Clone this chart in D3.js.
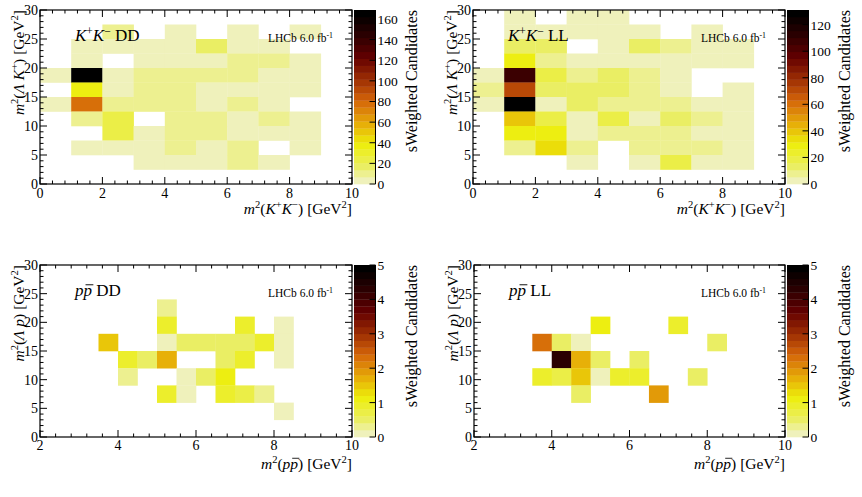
<!DOCTYPE html>
<html><head><meta charset="utf-8">
<script src="https://cdn.jsdelivr.net/npm/d3@7"></script>
<style>
body{margin:0;background:#fff}
svg{display:block}
svg text{font-family:"Liberation Serif","DejaVu Serif",serif;fill:#000}
</style>
</head><body>
<svg id="chart" width="862" height="497" font-family="Liberation Serif, DejaVu Serif, serif"></svg>
<script>
// ---------------- data ----------------
// bin edges
const kkXEdges = [0,1,2,3,4,5,6,7,8,9,10];
const kkYEdges = [30,27.5,25,22.5,20,17.5,15,12.5,10,7.5,5,2.5,0];           // top -> bottom
const ppXEdges = [2,2.5,3,3.5,4,4.5,5,5.5,6,6.5,7,7.5,8,8.5,9,9.5,10];
const ppYEdges = [30,27,24,21,18,15,12,9,6,3,0];                               // top -> bottom

// sWeighted candidates per bin, rows from top (high y) to bottom, columns left -> right
const kkDD = [
  [0,0,0,0,0,0,0,0,0,0],
  [0,0,11,0,4,0,4,0,4,0],
  [0,4,4,4,4,15,4,4,0,0],
  [0,4,0,4,4,4,10,10,4,0],
  [4,168,4,10,10,10,10,4,4,0],
  [0,38,4,10,10,4,4,4,4,0],
  [4,80,10,10,10,4,10,4,0,0],
  [0,10,22,0,10,10,4,10,4,0],
  [0,0,22,4,10,10,4,4,4,0],
  [0,4,4,4,10,4,10,0,4,0],
  [0,0,0,4,4,4,10,4,0,0],
  [0,0,0,0,0,0,0,0,0,0]
];
const kkLL = [
  [0,3,0,3,3,0,0,0,0,0],
  [0,3,3,3,3,3,0,3,0,0],
  [0,13,13,0,3,14,8,3,3,0],
  [0,28,9,3,3,3,3,3,3,0],
  [3,108,20,9,14,9,3,0,0,0],
  [8,72,13,13,13,8,3,0,3,0],
  [3,131,3,13,9,9,9,3,3,0],
  [0,40,20,3,16,3,12,9,3,0],
  [0,27,27,3,9,9,9,3,3,0],
  [0,9,36,9,0,9,9,9,3,0],
  [0,0,0,3,0,3,18,3,3,0],
  [0,0,0,0,0,0,0,0,0,0]
];
const ppDD = [
  [0,0,0,0,0,0,0,0,0,0,0,0,0,0,0,0],
  [0,0,0,0,0,0,0,0,0,0,0,0,0,0,0,0],
  [0,0,0,0,0,0,0.3,0,0,0,0,0,0,0,0,0],
  [0,0,0,0,0,0,0.8,0,0,0,0.8,0,0.1,0,0,0],
  [0,0,0,1.5,0,0,0.1,0.5,0.5,0.5,0.5,0.8,0.1,0,0,0],
  [0,0,0,0,0.9,0.5,1.7,0,0,0.4,0.8,0,0.1,0,0,0],
  [0,0,0,0,0.3,0,0,0.1,0.5,1.0,0,0,0,0,0,0],
  [0,0,0,0,0,0,0.9,0.1,0,0.9,0.7,0.3,0,0,0,0],
  [0,0,0,0,0,0,0,0,0,0,0,0,0.1,0,0,0],
  [0,0,0,0,0,0,0,0,0,0,0,0,0,0,0,0]
];
const ppLL = [
  [0,0,0,0,0,0,0,0,0,0,0,0,0,0,0,0],
  [0,0,0,0,0,0,0,0,0,0,0,0,0,0,0,0],
  [0,0,0,0,0,0,0,0,0,0,0,0,0,0,0,0],
  [0,0,0,0,0,0,1.1,0,0,0,0.8,0,0,0,0,0],
  [0,0,0,2.3,0.4,0.1,0,0,0,0,0,0,0.4,0,0,0],
  [0,0,0,0,4.2,1.7,0.5,0,0.5,0,0,0,0,0,0,0],
  [0,0,0,0.9,0.6,1.5,0.1,0.9,0.9,0,0,0.5,0,0,0,0],
  [0,0,0,0,0,0.5,0,0,0,1.9,0,0,0,0,0,0],
  [0,0,0,0,0,0,0,0,0,0,0,0,0,0,0,0],
  [0,0,0,0,0,0,0,0,0,0,0,0,0,0,0,0]
];

// axis tick labels
const kkXTicks = [0,2,4,6,8,10];
const ppXTicks = [2,4,6,8,10];
const yTicks = [0,5,10,15,20,25,30];
const kkDDZTicks = [0,20,40,60,80,100,120,140,160];
const kkLLZTicks = [0,20,40,60,80,100,120];
const ppZTicks = [0,1,2,3,4,5];
const zMax = {kkDD:168.7, kkLL:131, ppDD:5, ppLL:5};

// ---------------- palette (inverted dark body radiator) ----------------
const palStops = [0,0.125,0.25,0.375,0.5,0.625,0.75,0.875,1];
const palCols = ["rgb(242,243,230)","rgb(234,238,95)","rgb(237,238,11)","rgb(230,168,8)",
                 "rgb(212,101,9)","rgb(156,45,3)","rgb(99,0,1)","rgb(45,0,1)","rgb(0,0,0)"];
const pal = d3.scaleLinear().domain(palStops).range(palCols).interpolate(d3.interpolateRgb).clamp(true);
const NCONT = 25;
function bandColor(b){ return pal(Math.min(1,(b+0.99)/NCONT*255/254)); }

// ---------------- layout ----------------
const svg = d3.select("#chart");
const panels = [
  {data:kkDD, xe:kkXEdges, ye:kkYEdges, xd:[0,10], xt:kkXTicks, zmax:zMax.kkDD, zt:kkDDZTicks,
   box:{x0:40,x1:352,y0:10,y1:184}, cb:[354,375.5], kind:"kk", tag:"DD", tl:13.5, tt:29.5},
  {data:kkLL, xe:kkXEdges, ye:kkYEdges, xd:[0,10], xt:kkXTicks, zmax:zMax.kkLL, zt:kkLLZTicks,
   box:{x0:473,x1:785,y0:10,y1:184}, cb:[787,808.5], kind:"kk", tag:"LL", tl:13.5, tt:29.5},
  {data:ppDD, xe:ppXEdges, ye:ppYEdges, xd:[2,10], xt:ppXTicks, zmax:zMax.ppDD, zt:ppZTicks,
   box:{x0:40,x1:352,y0:265,y1:437}, cb:[354,375.5], kind:"pp", tag:"DD", tl:13, tt:31.5},
  {data:ppLL, xe:ppXEdges, ye:ppYEdges, xd:[2,10], xt:ppXTicks, zmax:zMax.ppLL, zt:ppZTicks,
   box:{x0:474,x1:785,y0:265,y1:437}, cb:[787,808.5], kind:"pp", tag:"LL", tl:13, tt:31.5}
];

// rich text helper: parts = [{t, i(italic), s(sup), o(overline)}]
function rich(sel, parts, fs, parentG){
  let up = false;
  const over = [];
  let nChars = 0;
  parts.forEach(p=>{
    const ts = sel.append("tspan").text(p.t);
    if(p.i) ts.attr("font-style","italic");
    if(p.s && !up){ ts.attr("dy", -0.38*fs).attr("font-size", fs*0.68); up = true; }
    else if(p.s && up){ ts.attr("font-size", fs*0.68); }
    else if(!p.s && up){ ts.attr("dy", 0.38*fs); up = false; }
    if(p.o) over.push([nChars, p.t.length]);
    nChars += p.t.length;
  });
  if(over.length && parentG){
    const el = sel.node();
    over.forEach(([i0,n])=>{
      const s = el.getStartPositionOfChar(i0);
      const e = el.getEndPositionOfChar(i0+n-1);
      parentG.append("line").attr("x1",s.x+0.12*fs).attr("x2",e.x+0.08*fs)
        .attr("y1",s.y-0.66*fs).attr("y2",s.y-0.66*fs)
        .attr("stroke","#000").attr("stroke-width",Math.max(0.8,fs*0.055));
    });
  }
}

const minus = "\u2212";
const kkYTitle = [{t:"m",i:1},{t:"2",s:1},{t:"("},{t:"\u039B",i:1},{t:" "},{t:"K",i:1},{t:"+",s:1},{t:") [GeV"},{t:"2",s:1},{t:"]"}];
const kkXTitle = [{t:"m",i:1},{t:"2",s:1},{t:"("},{t:"K",i:1},{t:"+",s:1},{t:"K",i:1},{t:minus,s:1},{t:") [GeV"},{t:"2",s:1},{t:"]"}];
const ppYTitle = [{t:"m",i:1},{t:"2",s:1},{t:"("},{t:"\u039B",i:1},{t:" "},{t:"p",i:1},{t:") [GeV"},{t:"2",s:1},{t:"]"}];
const ppXTitle = [{t:"m",i:1},{t:"2",s:1},{t:"("},{t:"p",i:1},{t:"p",i:1,o:1},{t:") [GeV"},{t:"2",s:1},{t:"]"}];

panels.forEach(P=>{
  const g = svg.append("g");
  const b = P.box;
  const x = d3.scaleLinear().domain(P.xd).range([b.x0,b.x1]);
  const y = d3.scaleLinear().domain([0,30]).range([b.y1,b.y0]);
  const z = d3.scaleLinear().domain([0,P.zmax]).range([0,NCONT]);
  const zc = v => bandColor(Math.max(0,Math.min(NCONT-1,Math.floor(z(v)))));

  // cells
  const cells = [];
  P.data.forEach((row,ri)=>row.forEach((v,ci)=>{ if(v>0) cells.push({v, x0:P.xe[ci], x1:P.xe[ci+1], yt:P.ye[ri], yb:P.ye[ri+1]}); }));
  g.append("g").selectAll("rect").data(cells).join("rect")
    .attr("x",d=>x(d.x0)).attr("y",d=>y(d.yt))
    .attr("width",d=>x(d.x1)-x(d.x0)+0.3).attr("height",d=>y(d.yb)-y(d.yt)+0.3)
    .attr("fill",d=>zc(d.v));

  // frame
  g.append("rect").attr("x",b.x0).attr("y",b.y0).attr("width",b.x1-b.x0).attr("height",b.y1-b.y0)
    .attr("fill","none").attr("stroke","#000").attr("stroke-width",1.2);

  // ticks (all 4 sides, inward)
  const xMinor = d3.range(P.xd[0], P.xd[1]+1e-9, 0.4);
  const yMinor = d3.range(0, 30+1e-9, 1);
  const tk = g.append("g").attr("stroke","#000").attr("stroke-width",1);
  const majX = P.xt, majY = yTicks;
  xMinor.forEach(v=>{ const isMaj = majX.some(m=>Math.abs(m-v)<1e-6); const L = isMaj?7:3.5;
    tk.append("line").attr("x1",x(v)).attr("x2",x(v)).attr("y1",b.y1).attr("y2",b.y1-L);
    tk.append("line").attr("x1",x(v)).attr("x2",x(v)).attr("y1",b.y0).attr("y2",b.y0+L); });
  yMinor.forEach(v=>{ const isMaj = majY.some(m=>Math.abs(m-v)<1e-6); const L = isMaj?7:3.5;
    tk.append("line").attr("y1",y(v)).attr("y2",y(v)).attr("x1",b.x0).attr("x2",b.x0+L);
    tk.append("line").attr("y1",y(v)).attr("y2",y(v)).attr("x1",b.x1).attr("x2",b.x1-L); });

  // tick labels
  g.append("g").selectAll("text").data(P.xt).join("text")
    .attr("x",d=>x(d)).attr("y",b.y1+P.tl).attr("text-anchor","middle").attr("font-size",14).text(d=>d);
  g.append("g").selectAll("text").data(yTicks).join("text")
    .attr("x",b.x0-2).attr("y",d=>y(d)+5).attr("text-anchor","end").attr("font-size",14).text(d=>d);

  // axis titles
  const xt = g.append("text").attr("x",b.x1).attr("y",b.y1+P.tt).attr("text-anchor","end").attr("font-size",15.5);
  rich(xt, P.kind==="kk"?kkXTitle:ppXTitle, 15.5, g);
  const yt = g.append("text").attr("transform",`translate(${b.x0-16},${b.y0}) rotate(-90)`).attr("text-anchor","end").attr("font-size",15.5);
  rich(yt, P.kind==="kk"?kkYTitle:ppYTitle, 15.5, null);

  // panel labels
  const lab = g.append("text").attr("x",b.x0+35).attr("y",b.y0+31).attr("font-size",17);
  if(P.kind==="kk") rich(lab,[{t:"K",i:1},{t:"+",s:1},{t:"K",i:1},{t:minus,s:1},{t:" "+P.tag}],17, g);
  else rich(lab,[{t:"p",i:1},{t:"p",i:1,o:1},{t:" "+P.tag}],17, g);
  const lh = g.append("text").attr("x",b.x1-84).attr("y",b.y0+32).attr("font-size",11.5);
  rich(lh,[{t:"LHCb 6.0 fb"},{t:"-1",s:1}],11.5, g);

  // colour bar
  const cbY = d3.scaleLinear().domain([0,P.zmax]).range([b.y1,b.y0]);
  const bands = d3.range(NCONT);
  g.append("g").selectAll("rect").data(bands).join("rect")
    .attr("x",P.cb[0]).attr("width",P.cb[1]-P.cb[0])
    .attr("y",i=>cbY((i+1)*P.zmax/NCONT)).attr("height",i=>cbY(i*P.zmax/NCONT)-cbY((i+1)*P.zmax/NCONT)+0.3)
    .attr("fill",i=>bandColor(i));
  const ctk = g.append("g").attr("stroke","#000").attr("stroke-width",1);
  ctk.append("line").attr("x1",P.cb[1]).attr("x2",P.cb[1]).attr("y1",b.y0).attr("y2",b.y1);
  P.zt.forEach(v=>{ ctk.append("line").attr("x1",P.cb[1]).attr("x2",P.cb[1]-6).attr("y1",cbY(v)).attr("y2",cbY(v)); });
  g.append("g").selectAll("text").data(P.zt).join("text")
    .attr("x",P.cb[1]+2).attr("y",d=>cbY(d)+5).attr("font-size",13.5).text(d=>d);
  g.append("text").attr("transform",`translate(${P.cb[1]+41},${b.y0}) rotate(-90)`)
    .attr("text-anchor","end").attr("font-size",16).text("sWeighted Candidates");
});
</script>
</body></html>
